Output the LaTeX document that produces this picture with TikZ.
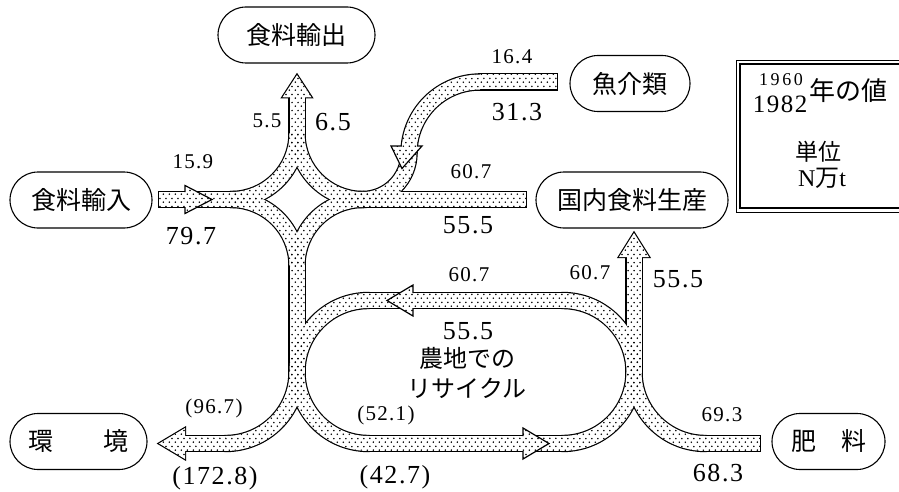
\documentclass[tikz,border=0pt]{standalone}
\usepackage{fontspec}
\setmainfont{Liberation Serif}
\newfontfamily\cjk{Noto Sans CJK JP}
\newfontfamily\numf[LetterSpace=6]{Liberation Serif}
\newfontfamily\numw[LetterSpace=14]{Liberation Serif}
\usetikzlibrary{patterns}
\pgfdeclarepatternformonly{banddots}{\pgfpointorigin}{\pgfpoint{6pt}{8pt}}{\pgfpoint{6pt}{8pt}}{%
  \pgfpathcircle{\pgfpoint{1.5pt}{2pt}}{0.95pt}%
  \pgfpathcircle{\pgfpoint{4.5pt}{6pt}}{0.95pt}%
  \pgfusepath{fill}}
\newcommand\hw{7.5}
\newcommand\bsec[6]{\path[#1] ([shift={(#4:{#6+\hw})}]#2,#3) arc[start angle=#4,end angle=#5,radius={#6+\hw}] -- ([shift={(#5:{#6-\hw})}]#2,#3) arc[start angle=#5,end angle=#4,radius={#6-\hw}] -- cycle;}
\newcommand\brect[5]{\path[#1] (#2,#3) rectangle (#4,#5);}
\newcommand\btri[7]{\path[#1] (#2,#3) -- (#4,#5) -- (#6,#7) -- cycle;}
\newcommand\allbands[1]{%
 \brect{#1}{159}{192}{187}{207}%
 \brect{#1}{188}{192}{231.5}{207}%
 \brect{#1}{362.5}{192}{526}{207}%
 \brect{#1}{289.5}{97.3}{304.5}{134}%
 \btri{#1}{282.5}{97.3}{311.5}{97.3}{297}{75}%
 \bsec{#1}{231}{133.5}{90}{0}{66}%
 \bsec{#1}{363}{133.5}{180}{90}{66}%
 \bsec{#1}{231}{265.5}{270}{360}{66}%
 \bsec{#1}{363}{265.5}{180}{270}{66}%
 \brect{#1}{289.5}{265}{304.5}{372.5}%
 \bsec{#1}{225.5}{372}{0}{90}{71.5}%
 \brect{#1}{185}{436}{226}{451}%
 \btri{#1}{185}{428}{185}{459}{159}{443.5}%
 \bsec{#1}{368.5}{372}{90}{270}{71.5}%
 \brect{#1}{368}{293}{563}{308}%
 \brect{#1}{368}{436}{563}{451}%
 \bsec{#1}{562.5}{372}{-90}{90}{71.5}%
 \brect{#1}{626.5}{257}{641.5}{372.5}%
 \btri{#1}{619}{257}{649}{257}{634}{233}%
 \bsec{#1}{705.5}{372}{180}{90}{71.5}%
 \brect{#1}{705}{436}{760}{451}%
 \brect{#1}{479.5}{74.5}{557}{89.5}%
 \bsec{#1}{480}{153}{270}{180}{71}%
 \bsec{#1}{362.5}{153}{0}{90}{46.5}%
}
\newcommand\ehead[5]{%
 \fill[white] #1--#2--#3--#4--#5--cycle;
 \fill[pattern=banddots] #1--#2--#3--#4--#5--cycle;
 \draw[outl] #1--#2--#3--#4--#5;}
\begin{document}
\begin{tikzpicture}[x=1pt,y=-1pt,
  outl/.style={line width=1.2pt,line join=miter},
  box/.style={draw,line width=1.1pt,rounded corners=28pt,minimum height=56pt,inner sep=0pt,font=\cjk\fontsize{25}{28}\selectfont},
  sm/.style={font=\numf\fontsize{21}{24}\selectfont,inner sep=0pt},
  lg/.style={font=\numf\fontsize{26}{30}\selectfont,inner sep=0pt}]
\useasboundingbox (0,0) rectangle (899,492);
\fill[white] (0,0) rectangle (899,492);
% bands: outline, white, dots
\allbands{draw=black,line width=2.4pt}
\allbands{fill=white}
\allbands{pattern=banddots}
% arrowheads lying inside the bands
\ehead{(185,192)}{(185,185.5)}{(212,199.5)}{(185,213.5)}{(185,207)}
\ehead{(413,293)}{(413,285)}{(387,300.5)}{(413,316)}{(413,308)}
\ehead{(523,436)}{(523,428)}{(549,443.5)}{(523,459)}{(523,451)}
\ehead{(401.8,146)}{(391,146)}{(402,168.5)}{(422,146)}{(416.9,146)}
% boxes
\node[box,minimum width=157pt] (export) at (296.5,35) {食料輸出};
\node[box,minimum width=142pt] (import) at (81,200) {食料輸入};
\node[box,minimum width=120pt] (fish) at (630,83.5) {魚介類};
\node[box,minimum width=192pt] (domestic) at (632,200) {国内食料生産};
\node[box,minimum width=137pt] (env) at (78.5,441.5) {環\hspace{2em}境};
\node[box,minimum width=113pt] (fert) at (828.5,441.5) {肥\hspace{1em}料};
% legend
\draw[line width=0.9pt] (736,60) rectangle (910,212);
\draw[line width=1.2pt] (740,64) rectangle (910,208);
\node[font=\numw\fontsize{18}{20}\selectfont,inner sep=0pt] (l1960) at (781,80) {1960};
\node[font=\numf\fontsize{25}{28}\selectfont,inner sep=0pt] (l1982) at (780,104) {1982};
\node[font=\cjk\fontsize{26}{28}\selectfont,inner sep=0pt] (lyear) at (848,91) {年の値};
\node[font=\cjk\fontsize{23}{26}\selectfont,inner sep=0pt] (lunit) at (818,152) {単位};
\node[font=\fontsize{24}{26}\selectfont,inner sep=0pt] (lnt) at (822,178) {N{\cjk 万}t};
% numbers
\node[sm] (n1) at (193,162) {15.9};
\node[lg] (n2) at (191,236) {79.7};
\node[sm] (n3) at (267,121) {5.5};
\node[lg] (n4) at (333,122) {6.5};
\node[sm] (n5) at (512,57) {16.4};
\node[lg] (n6) at (517,112) {31.3};
\node[sm] (n7) at (471,172) {60.7};
\node[lg] (n8) at (468,225) {55.5};
\node[sm] (n9) at (469,275) {60.7};
\node[lg] (n10) at (468,331) {55.5};
\node[font=\cjk\fontsize{24}{30}\selectfont,align=center,inner sep=0pt] (loop) at (467,373) {農地での\\リサイクル};
\node[sm] (n11) at (590,273) {60.7};
\node[lg] (n12) at (678,279) {55.5};
\node[sm] (n13) at (214,408) {(96.7)};
\node[lg] (n14) at (215,478) {(172.8)};
\node[sm] (n15) at (386,415) {(52.1)};
\node[lg] (n16) at (395,477) {(42.7)};
\node[sm] (n17) at (722,415) {69.3};
\node[lg] (n18) at (718,473) {68.3};
\end{tikzpicture}
\end{document}
